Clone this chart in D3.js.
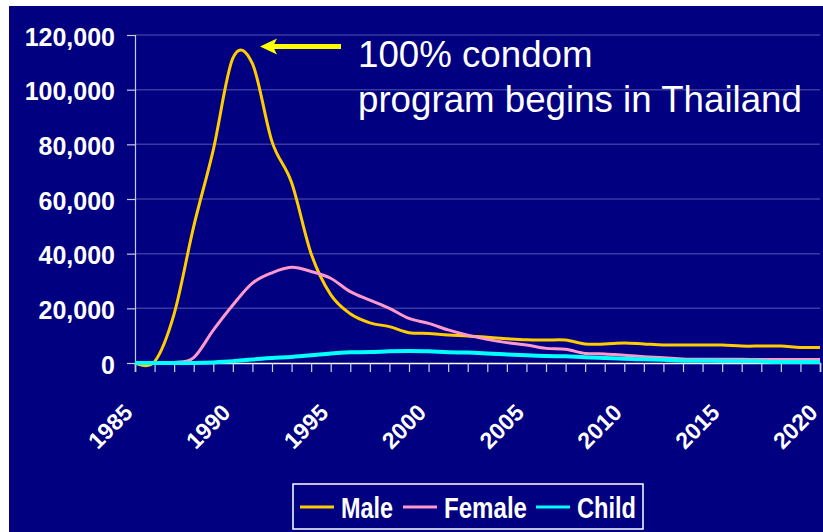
<!DOCTYPE html>
<html>
<head>
<meta charset="utf-8">
<script src="https://cdn.jsdelivr.net/npm/d3@7"></script>
<style>
    body { margin: 0; background: #fff; }
    svg { display: block; font-family: Arial, "Liberation Sans", sans-serif; }
</style>
</head>
<body>
<div id="chart"></div>
<script>
// yearly values
var years = d3.range(1985, 2021);
var male = [0, 500, 18000, 50000, 78000, 111500, 109500, 81000, 66000, 40000,
    25000, 18000, 14700, 13300, 11100, 10800, 10200, 9900, 9400, 8900,
    8500, 8400, 8400, 6950, 6950, 7300, 6950, 6600, 6600, 6600,
    6600, 6200, 6200, 6200, 5700, 5700];
var female = [0, 0, 200, 2000, 12000, 21200, 29200, 33000, 35000, 33500,
    31000, 26100, 23000, 20000, 16300, 14500, 12100, 10200, 8650, 7450,
    6600, 5350, 5000, 3500, 3300, 2800, 2300, 1950, 1500, 1350,
    1350, 1350, 1300, 1300, 1300, 1300];
var child = [0, 0, 0, 0, 200, 600, 1300, 1800, 2200, 2800,
    3500, 3900, 4000, 4300, 4400, 4300, 3900, 3800, 3500, 3150,
    2800, 2550, 2450, 2070, 1830, 1600, 1340, 1220, 850, 850,
    730, 730, 600, 370, 370, 370];
var yTicks = [0, 20000, 40000, 60000, 80000, 100000, 120000];
var xLabelYears = [1985, 1990, 1995, 2000, 2005, 2010, 2015, 2020];
var seriesNames = ["Male", "Female", "Child"];
var seriesColors = ["#FFCC00", "#FF99CC", "#00FFFF"];
var noteLines = ["100% condom", "program begins in Thailand"];

var width = 823, height = 532;
var svg = d3.select("#chart").append("svg")
    .attr("width", width)
    .attr("height", height);

// navy panel
svg.append("rect")
    .attr("x", 9).attr("y", 6)
    .attr("width", width - 9).attr("height", height - 6)
    .attr("fill", "#000080");

var x = d3.scaleLinear().domain([1985, 2020]).range([135, 820]);
var y = d3.scaleLinear().domain([0, 120000]).range([363, 35]);

// gridlines
svg.append("g").selectAll("line")
    .data(yTicks.filter(function(d) { return d > 0; }))
    .enter().append("line")
    .attr("x1", 135).attr("x2", 820)
    .attr("y1", function(d) { return y(d); })
    .attr("y2", function(d) { return y(d); })
    .attr("stroke", "#3a3aa0")
    .attr("stroke-width", 1.5);

// y axis
var yAxis = svg.append("g")
    .attr("transform", "translate(135,0)")
    .call(d3.axisLeft(y).tickValues(yTicks).tickSize(8).tickPadding(12)
        .tickFormat(d3.format(",")));
yAxis.select(".domain").attr("stroke", "#c8c8e8").attr("stroke-width", 1.2);
yAxis.selectAll(".tick line").attr("stroke", "#c8c8e8").attr("stroke-width", 1.2);
yAxis.selectAll(".tick text")
    .attr("fill", "#fff")
    .attr("font-size", 25)
    .attr("font-weight", "bold")
    .attr("font-family", "Arial, 'Liberation Sans', sans-serif")
    .attr("dy", "0.4em");

// x axis, one tick a year
var xAxis = svg.append("g")
    .attr("transform", "translate(0,363)")
    .call(d3.axisBottom(x).tickValues(years).tickSize(9).tickFormat(""));
xAxis.select(".domain").attr("stroke", "#fff").attr("stroke-width", 1.5);
xAxis.selectAll(".tick line").attr("stroke", "#d0d0f0").attr("stroke-width", 1.2);

svg.append("g").selectAll("text")
    .data(xLabelYears)
    .enter().append("text")
    .attr("transform", function(d) { return "translate(" + (x(d) - 1) + ",414) rotate(-45)"; })
    .attr("text-anchor", "end")
    .attr("fill", "#fff")
    .attr("font-size", 23)
    .attr("font-weight", "bold")
    .text(function(d) { return d; });

// smoothed lines, like the spreadsheet
var line = d3.line()
    .x(function(d, i) { return x(years[i]); })
    .y(function(d) { return y(d); })
    .curve(d3.curveCardinal.tension(0));

[male, female, child].forEach(function(s, i) {
    svg.append("path")
        .datum(s)
        .attr("fill", "none")
        .attr("stroke", seriesColors[i])
        .attr("stroke-width", i === 2 ? 4 : 3)
        .attr("stroke-linejoin", "round")
        .attr("d", line);
});

// annotation arrow
svg.append("line")
    .attr("x1", 341).attr("x2", 272)
    .attr("y1", 46.5).attr("y2", 46.5)
    .attr("stroke", "#FFFF00")
    .attr("stroke-width", 5);
svg.append("path")
    .attr("d", "M260,46.5 L277,38.5 L273,46.5 L277,54.5 Z")
    .attr("fill", "#FFFF00");

svg.append("g").selectAll("text")
    .data(noteLines)
    .enter().append("text")
    .attr("x", 358)
    .attr("y", function(d, i) { return 67 + i * 45; })
    .attr("fill", "#fff")
    .attr("font-size", 36.7)
    .text(function(d) { return d; });

// legend
var legend = svg.append("g");
legend.append("rect")
    .attr("x", 293).attr("y", 484)
    .attr("width", 350).attr("height", 45)
    .attr("fill", "none")
    .attr("stroke", "#fff")
    .attr("stroke-width", 1.5);

var legendX = [300, 403, 536];
var legendTextW = [52, 83, 59];
seriesNames.forEach(function(name, i) {
    legend.append("line")
        .attr("x1", legendX[i]).attr("x2", legendX[i] + 34)
        .attr("y1", 507).attr("y2", 507)
        .attr("stroke", seriesColors[i])
        .attr("stroke-width", 3);
    legend.append("text")
        .attr("x", legendX[i] + 41)
        .attr("y", 518)
        .attr("fill", "#fff")
        .attr("font-size", 29)
        .attr("font-weight", "bold")
        .attr("textLength", legendTextW[i])
        .attr("lengthAdjust", "spacingAndGlyphs")
        .text(name);
});
</script>
</body>
</html>
